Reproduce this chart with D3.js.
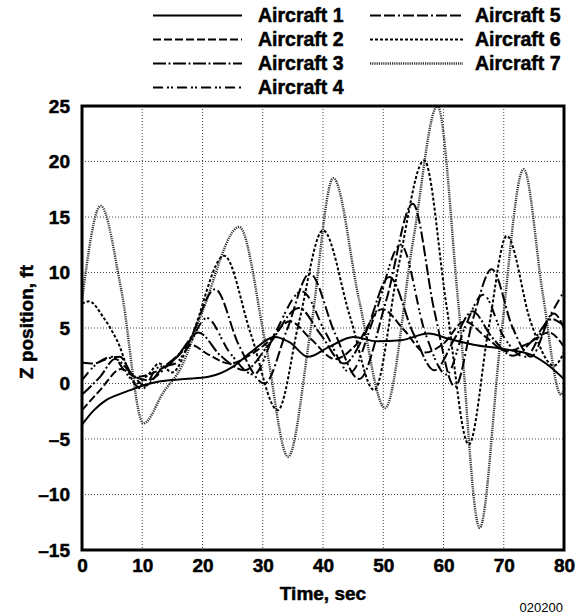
<!DOCTYPE html>
<html>
<head>
<meta charset="utf-8">
<script src="https://cdn.jsdelivr.net/npm/d3@7"></script>
<style>
  body { margin: 0; background: #fff; }
  text { font-family: "Liberation Sans", Arial, sans-serif; }
  .bold { font-weight: bold; stroke: #000; stroke-width: 0.5px; }
</style>
</head>
<body>
<div id="chart"></div>
<script>
// values, [time sec, z ft]
const aircraft1 = [[0,-3.7],[2,-2.4],[4,-1.5],[6,-1.0],[8,-0.6],[10,-0.2],[13,0.2],[17,0.4],[21,0.6],[25,1.5],[28,2.8],[32,4.2],[34.5,3.7],[37.5,2.4],[41,3.3],[45,4.2],[49,3.8],[53,3.9],[57.5,4.5],[61,4.0],[65,3.5],[70,3.1],[74.5,2.6],[77,1.8],[80,0.4]];
const aircraft2 = [[0,-2.4],[3,-0.6],[6.5,1.3],[9,0.6],[12,1.0],[15,2.0],[18,3.5],[21,2.6],[24.5,1.8],[28,2.6],[31,3.8],[34.5,5.6],[38,4.0],[42,2.2],[45.5,3.5],[49.8,6.7],[53.5,4.8],[57,2.8],[60,3.6],[63.5,5.6],[67,4.2],[70.5,2.9],[74,3.6],[77.5,4.6],[80,3.3]];
const aircraft3 = [[0,-1.0],[3,0.6],[5.5,2.2],[8,1.0],[10.5,-0.2],[13,1.2],[16,2.6],[19.3,4.6],[23,2.5],[27,1.2],[31,3.5],[36,6.8],[39.5,4.5],[43.5,1.8],[47,4.5],[51,9.6],[55,4.5],[58.5,1.2],[62,4.2],[64.8,6.5],[68,4.2],[71.5,2.5],[75,4.0],[78,5.8],[80,5.2]];
const aircraft4 = [[0,0.3],[2.5,1.8],[5,2.4],[7.5,0.8],[10,-0.5],[12.5,1.4],[15.5,1.8],[17.5,3.2],[20.7,5.9],[24.5,2.8],[28.5,0.8],[32,4.5],[36.5,8.3],[40.5,4.5],[44.5,1.0],[48.5,6.0],[52.9,12.5],[57,4.5],[60.5,0.8],[63.5,5.0],[66.6,8.0],[70,4.2],[73.5,2.4],[77,5.5],[80,8.3]];
const aircraft5 = [[0,1.9],[2,1.8],[4.5,2.3],[6.3,2.4],[8.5,0.7],[11,0.3],[14,1.5],[17.5,3.5],[22.1,8.5],[26,3.5],[30.3,0.0],[34,4.8],[37.8,9.9],[42,4.5],[46,0.4],[50.5,7.5],[54.9,16.2],[58.5,6.5],[61.9,-0.3],[65,6.0],[68,10.3],[71.5,5.0],[74.5,2.4],[78.3,6.3],[80,5.0]];
const aircraft6 = [[0,7.2],[1.2,7.4],[3.5,6.0],[5.8,3.9],[9,0.0],[11,0.8],[12.8,1.8],[15,1.0],[18,4.0],[23.6,11.5],[28,4.5],[32.5,-2.4],[36,5.5],[40,13.8],[44.5,6.0],[48.5,-0.6],[52.5,10.5],[56.8,20.1],[60.5,7.0],[64.2,-5.5],[67.5,5.0],[70.5,13.3],[74.5,5.5],[78.3,1.6],[80,2.8]];
const aircraft7 = [[0,7.5],[3.1,16],[6.5,8.5],[10.2,-3.6],[13.5,-0.8],[16.5,1.5],[20,6.5],[26.1,14.1],[30.5,3.5],[34.2,-6.6],[38,5.0],[41.7,18.5],[46,7.5],[50.3,-2.2],[55,13],[59,25],[62.5,7],[66,-13],[69.5,4],[73.3,19.3],[76.5,8],[79.5,-1],[80,-0.6]];

const names = ["Aircraft 1","Aircraft 2","Aircraft 3","Aircraft 4","Aircraft 5","Aircraft 6","Aircraft 7"];
const xTicks = [0,10,20,30,40,50,60,70,80];
const yTicks = [-15,-10,-5,0,5,10,15,20,25];

const series = [aircraft1, aircraft2, aircraft3, aircraft4, aircraft5, aircraft6, aircraft7];
// line styles per aircraft
const styles = [
  {dash: null,               color: "#000", w: 2},
  {dash: "8,3",              color: "#000", w: 2},
  {dash: "13,2.5,2,2.5",     color: "#000", w: 2},
  {dash: "10,4,2,2,2,4",     color: "#000", w: 2},
  {dash: "11,3,11,3,2,3",    color: "#000", w: 2},
  {dash: "3,2",              color: "#000", w: 2},
  {dash: "1.2,1",            color: "#333", w: 2.4}
];

const W = 575, H = 614;
const margin = {top: 106, right: 11, bottom: 64, left: 82},
      width = W - margin.left - margin.right,
      height = H - margin.top - margin.bottom;

const svg = d3.select("#chart")
  .append("svg")
    .attr("width", W)
    .attr("height", H);

const g = svg.append("g")
    .attr("transform", `translate(${margin.left},${margin.top})`);

const x = d3.scaleLinear().domain([0,80]).range([0,width]);
const y = d3.scaleLinear().domain([-15,25]).range([height,0]);

// grid
g.append("g")
  .selectAll("line")
  .data(xTicks.slice(1,-1))
  .join("line")
    .attr("x1", d => x(d)).attr("x2", d => x(d))
    .attr("y1", 0).attr("y2", height)
    .attr("stroke", "#444").attr("stroke-width", 1)
    .attr("stroke-dasharray", "1,2");
g.append("g")
  .selectAll("line")
  .data(yTicks.slice(1,-1))
  .join("line")
    .attr("x1", 0).attr("x2", width)
    .attr("y1", d => y(d)).attr("y2", d => y(d))
    .attr("stroke", "#444").attr("stroke-width", 1)
    .attr("stroke-dasharray", "1,2");

// axes labels
const xAxis = g.append("g")
    .attr("transform", `translate(0,${height})`)
    .call(d3.axisBottom(x).tickValues(xTicks).tickSize(0).tickPadding(9));
const yAxis = g.append("g")
    .call(d3.axisLeft(y).tickValues(yTicks).tickSize(0).tickPadding(12)
      .tickFormat(d => d < 0 ? "\u2013" + Math.abs(d) : d));
[xAxis, yAxis].forEach(a => {
  a.select(".domain").remove();
  a.selectAll("text")
    .attr("class", "bold")
    .attr("font-family", "'Liberation Sans', Arial, sans-serif")
    .attr("font-size", 19)
    .attr("fill", "#000");
});

g.append("clipPath").attr("id", "clip")
  .append("rect").attr("width", width).attr("height", height);

const line = d3.line()
    .x(d => x(d[0]))
    .y(d => y(d[1]))
    .curve(d3.curveMonotoneX);

g.append("g").attr("clip-path", "url(#clip)")
  .selectAll("path")
  .data(series.map((s, i) => ({s, i})).reverse())
  .join("path")
    .attr("d", d => line(d.s))
    .attr("fill", "none")
    .attr("stroke", d => styles[d.i].color)
    .attr("stroke-width", d => styles[d.i].w)
    .attr("stroke-dasharray", d => styles[d.i].dash);

// frame
g.append("rect")
    .attr("width", width).attr("height", height)
    .attr("fill", "none").attr("stroke", "#000").attr("stroke-width", 3);

// legend
const legend = svg.append("g");
const legendItems = legend.selectAll("g")
  .data(names)
  .join("g")
    .attr("transform", (d, i) => i < 4
      ? `translate(153,${15 + i*24})`
      : `translate(370,${15 + (i-4)*24})`);
legendItems.append("path")
    .attr("d", (d, i) => `M0,0.5H${i < 4 ? 89 : 93}`)
    .attr("fill", "none")
    .attr("stroke", (d, i) => styles[i].color)
    .attr("stroke-width", (d, i) => styles[i].w)
    .attr("stroke-dasharray", (d, i) => styles[i].dash);
legendItems.append("text")
    .attr("class", "bold")
    .attr("x", 105)
    .attr("y", 7)
    .attr("font-size", 19.5)
    .text(d => d);

// axis titles
svg.append("text")
    .attr("class", "bold")
    .attr("x", margin.left + width/2)
    .attr("y", 600)
    .attr("text-anchor", "middle")
    .attr("font-size", 19)
    .text("Time, sec");
svg.append("text")
    .attr("class", "bold")
    .attr("transform", `translate(33,${margin.top + height/2 - 6}) rotate(-90)`)
    .attr("text-anchor", "middle")
    .attr("font-size", 19)
    .text("Z position, ft");

svg.append("text")
    .attr("x", 563)
    .attr("y", 612)
    .attr("text-anchor", "end")
    .attr("font-size", 13)
    .text("020200");
</script>
</body>
</html>
